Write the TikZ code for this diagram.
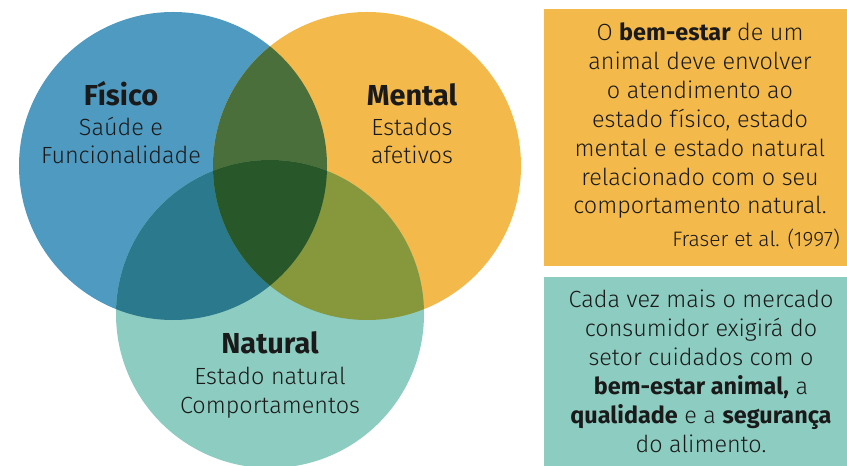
\documentclass[tikz,border=0pt]{standalone}
\usepackage{fontspec}
\setmainfont{Fira Sans Light}[BoldFont={Fira Sans Bold}]
\usetikzlibrary{positioning}

\definecolor{ink}{HTML}{1A1A1A}
\definecolor{fisblue}{HTML}{4F9AC1}
\definecolor{menorange}{HTML}{F3B94B}
\definecolor{natteal}{HTML}{8DCCC0}
\definecolor{fismen}{HTML}{4B6F3A}
\definecolor{fisnat}{HTML}{2B798C}
\definecolor{mennat}{HTML}{87973B}
\definecolor{allthree}{HTML}{28582A}

\begin{document}
\begin{tikzpicture}[x=1bp,y=-1bp,
    title/.style={font=\fontsize{29}{30}\selectfont\bfseries, text=ink, anchor=base, inner sep=0pt},
    sub/.style={font=\fontsize{23.5}{29}\selectfont, text=ink, align=center, anchor=base, inner sep=0pt},
    boxtext/.style={font=\fontsize{23.5}{29}\selectfont, text=ink, align=center, anchor=base, inner sep=0pt},
    panel/.style={minimum width=303bp, inner sep=0pt, outer sep=0pt}]
\useasboundingbox (0,0) rectangle (847,466);

% circles
\coordinate (F) at (173,166);
\coordinate (M) at (367,166);
\coordinate (N) at (270,314);
\def\rad{154bp}
\fill[fisblue] (F) circle[radius=\rad];
\fill[menorange] (M) circle[radius=\rad];
\fill[natteal] (N) circle[radius=\rad];
\begin{scope}
  \clip (F) circle[radius=\rad];
  \fill[fismen] (M) circle[radius=\rad];
  \fill[fisnat] (N) circle[radius=\rad];
\end{scope}
\begin{scope}
  \clip (M) circle[radius=\rad];
  \fill[mennat] (N) circle[radius=\rad];
\end{scope}
\begin{scope}
  \clip (F) circle[radius=\rad];
  \clip (M) circle[radius=\rad];
  \fill[allthree] (N) circle[radius=\rad];
\end{scope}

% labels (base = last line)
\node[title] (fis) at (121,106) {Físico};
\node[sub] (fissub) at (121,164) {Saúde e\\Funcionalidade};
\node[title] (men) at (412,106) {Mental};
\node[sub] (mensub) at (412,164) {Estados\\afetivos};
\node[title] (nat) at (270,354) {Natural};
\node[sub] (natsub) at (270,413) {Estado natural\\Comportamentos};

% panels
\node[panel, fill=menorange, minimum height=257bp, anchor=north west] (quote) at (544,9) {};
\node[boxtext] (quotetext) at (700,214) {O \textbf{bem-estar} de um\\animal deve envolver\\o atendimento ao\\estado físico, estado\\mental e estado natural\\relacionado com o seu\\comportamento natural.};
\node[font=\fontsize{21}{24}\selectfont, text=ink, anchor=base east, inner sep=0pt] (ref) at (840,247) {Fraser et al. (1997)};
\node[panel, fill=natteal, minimum height=189bp, anchor=north west] (market) at (544,277) {};
\node[boxtext] (markettext) at (701,452) {Cada vez mais o mercado\\consumidor exigirá do\\setor cuidados com o\\\textbf{bem-estar animal,} a\\\textbf{qualidade} e a \textbf{segurança}\\do alimento.};
\end{tikzpicture}
\end{document}
